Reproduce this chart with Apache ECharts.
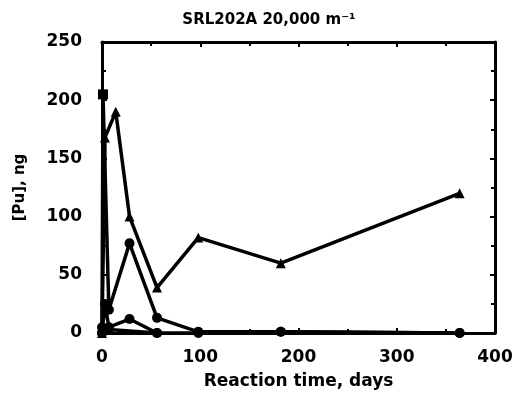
<!DOCTYPE html>
<html>
<head>
<meta charset="utf-8">
<script src="https://cdn.jsdelivr.net/npm/echarts@6/dist/echarts.min.js"></script>
<style>
  html, body { margin: 0; padding: 0; background: #fff; }
  #chart { width: 522px; height: 406px; }
</style>
</head>
<body>
<div id="chart"></div>
<script>
// values, [Pu] in ng against reaction time in days
const serA = [[0, 0], [3, 168], [14, 190], [28, 100], [56, 39], [98, 82], [182, 60], [364, 120]];
const serB = [[0, 0], [1, 205], [7, 20], [28, 77], [56, 13], [98, 1], [182, 1], [364, 0]];
const serC = [[0, 0], [3, 25], [7, 5], [28, 12], [56, 0], [98, 0], [182, 1], [364, 0]];
const serD = [[0, 5], [7, 3], [56, 0]];

const xTicks = [0, 400, 100];   // min, max, interval
const yTicks = [0, 250, 50];

const chart = echarts.init(document.getElementById('chart'));

const font = 'DejaVu Sans, Verdana, sans-serif';
const black = '#000';

// shared frame style for the four axes
const frameAxis = (extra) => Object.assign({
  type: 'value',
  axisLine: { show: true, onZero: false, lineStyle: { color: black, width: 3 } },
  axisTick: { show: true, inside: true, length: 5, lineStyle: { color: black, width: 2 } },
  minorTick: { show: true, splitNumber: 2, length: 4, lineStyle: { color: black, width: 2 } },
  splitLine: { show: false },
}, extra);

const line = (data, symbol) => ({
  type: 'line',
  data,
  symbol,
  symbolSize: 10,
  lineStyle: { color: black, width: 3.5 },
  itemStyle: { color: black },
  z: 3,
});

const option = {
  backgroundColor: '#fff',
  animation: false,
  title: {
    text: 'SRL202A 20,000 m⁻¹',
    left: 264,
    top: 8,
    textAlign: 'center',
    textStyle: { fontFamily: font, fontWeight: 'bold', fontSize: 15, color: black },
  },
  grid: { left: 102, right: 27, top: 42, bottom: 73 },
  xAxis: [
    frameAxis({
      min: xTicks[0], max: xTicks[1], interval: xTicks[2],
      position: 'bottom',
      name: 'Reaction time, days',
      nameLocation: 'middle',
      nameGap: 40,
      nameTextStyle: { fontFamily: font, fontWeight: 'bold', fontSize: 17, color: black },
      axisLabel: { margin: 16, fontFamily: font, fontWeight: 'bold', fontSize: 17, color: black },
    }),
    frameAxis({
      min: xTicks[0], max: xTicks[1], interval: xTicks[2],
      position: 'top',
      axisLabel: { show: false },
    }),
  ],
  yAxis: [
    frameAxis({
      min: yTicks[0], max: yTicks[1], interval: yTicks[2],
      position: 'left',
      name: '[Pu], ng',
      nameLocation: 'middle',
      nameGap: 74,
      nameTextStyle: { fontFamily: font, fontWeight: 'bold', fontSize: 15, color: black },
      axisLabel: { margin: 20, fontFamily: font, fontWeight: 'bold', fontSize: 17, color: black },
    }),
    frameAxis({
      min: yTicks[0], max: yTicks[1], interval: yTicks[2],
      position: 'right',
      axisLabel: { show: false },
    }),
  ],
  series: [
    line(serA, 'triangle'),
    line(serB, (v) => (v[1] > 200 ? 'rect' : 'circle')),
    line(serC, 'circle'),
    line(serD, 'circle'),
  ],
};

option && chart.setOption(option);
</script>
</body>
</html>
